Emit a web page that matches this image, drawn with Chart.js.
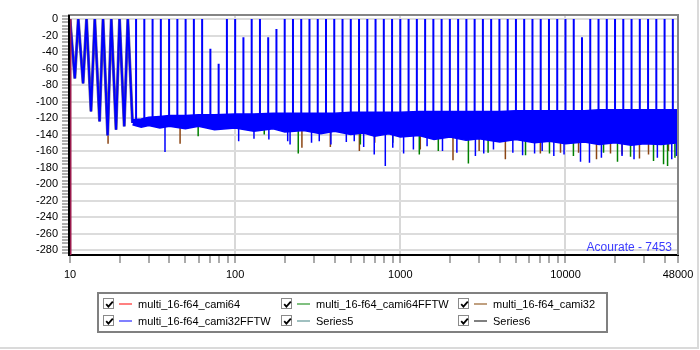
<!DOCTYPE html>
<html lang="en">
<head>
<meta charset="UTF-8">
<title>Acourate - 7453</title>
<style>
    html, body { margin: 0; padding: 0; background: #fff; }
    #wrap { position: relative; width: 700px; height: 350px; overflow: hidden; font-family: "Liberation Sans", Arial, sans-serif; }
    #frame { position: absolute; left: 0; top: 0; width: 697px; height: 347px; border-right: 2px solid #dadada; border-bottom: 2px solid #dadada; }
    #chartBox { position: absolute; left: 0; top: 0; width: 700px; height: 350px; }
    #brand { position: absolute; right: 28px; top: 240px; font-size: 12px; color: #3b3bff; }
    .legend { position: absolute; left: 97px; top: 292px; width: 507px; height: 37px; border: 2px solid #808080; font-size: 11px; }
    .item { position: absolute; height: 14px; line-height: 14px; white-space: nowrap; }
    .chk { position: absolute; left: 0; top: 1px; width: 11px; height: 11px; box-sizing: border-box; border: 1px solid #8a8a8a; background: #fff; }
    .chk svg { position: absolute; left: 1px; top: 1px; }
    .swatch { position: absolute; left: 16px; top: 6px; width: 13px; height: 2px; }
    .txt { position: absolute; left: 35px; top: 0; color: #000; }
</style>
</head>
<body>
<div id="wrap">
    <div id="frame"></div>
    <div id="chartBox"><canvas id="spectrumChart"></canvas></div>
    <div id="brand">Acourate - 7453</div>
    <div class="legend" id="legend"></div>
</div>

<script src="https://cdn.jsdelivr.net/npm/chart.js"></script>
<script>
// === DATA ===
// multitone frequencies, one spike per tone
const toneHz = [10, 11.22, 12.59, 14.13, 15.85, 17.78, 19.95, 22.39, 25.12, 28.18,
    31.62, 35.48, 39.81, 44.67, 50.12, 56.23, 63.10, 70.79, 79.43, 89.13,
    100, 112.2, 125.9, 141.3, 158.5, 177.8, 199.5, 223.9, 251.2, 281.8,
    316.2, 354.8, 398.1, 446.7, 501.2, 562.3, 631.0, 707.9, 794.3, 891.3,
    1000, 1122, 1259, 1413, 1585, 1778, 1995, 2239, 2512, 2818,
    3162, 3548, 3981, 4467, 5012, 5623, 6310, 7079, 7943, 8913,
    10000, 11220, 12589, 14125, 15849, 17783, 19953, 22387, 25119, 28184,
    31623, 35481, 39811, 44668];
const tonePeakDb = [0, 0, 0, 0, 0, 0, 0, 0, 0, 0,
    0, 0, 0, 0, 0, 0, 0, -36, -54, 0,
    0, -22, 0, 0, -22, -12, 0, 0, 0, 0,
    0, 0, 0, 0, 0, 0, 0, 0, 0, 0,
    0, 0, 0, 0, 0, 0, 0, 0, 0, 0,
    0, 0, 0, 0, 0, 0, 0, 0, 0, 0,
    0, 0, -22, 0, 0, 0, 0, 0, 0, 0,
    0, 0, 0, 0];

// low-frequency lobes: troughs between the first tones
const lobeTroughHz = [10.7, 12.0, 13.4, 15.1, 16.9, 19.0, 21.3, 23.9];
const lobeTroughDb = [-72, -78, -112, -124, -141, -134, -130, -126];

// noise floor band (upper and lower edge)
const bandHz = [23.9, 27, 30, 35, 40, 50, 60, 75, 100, 130, 170, 200, 260, 330, 400, 500, 600, 700, 850,
    1000, 1300, 1600, 2000, 2500, 3000, 4000, 5000, 6500, 8000, 10000, 13000, 16000, 20000, 25000, 30000, 38000, 48000];
const bandTopDb = [-122, -121, -119, -118, -117, -117, -116, -116, -115, -115, -114, -114, -114, -114, -114,
    -113, -113, -113, -113, -113, -112, -112, -112, -112, -112, -112, -111, -111, -111, -111, -111,
    -110, -110, -110, -110, -110, -110];
const bandBottomDb = [-128, -131, -129, -132, -130, -133, -130, -134, -132, -136, -133, -137, -135, -139, -136,
    -140, -138, -142, -139, -143, -141, -146, -143, -147, -145, -149, -146, -150, -148, -151, -149,
    -152, -150, -153, -151, -152, -150];

// dips below the noise floor [Hz, dB]
const blueDips = [[37.6, -161], [105, -148], [130, -145], [160, -146], [208, -148], [215, -152], [290, -150],
    [323, -148], [380, -152], [471, -149], [526, -148], [600, -155], [695, -164], [811, -178], [900, -156],
    [1047, -163], [1200, -158], [1452, -154], [1800, -160], [2200, -162], [2848, -166], [3200, -163],
    [3664, -158], [4800, -162], [5500, -165], [6500, -163], [7227, -160], [8500, -166], [9800, -164],
    [12330, -173], [13970, -174], [16500, -168], [22000, -166], [26000, -170], [36000, -168],
    [44000, -170], [47000, -166]];
const greenDips = [[59.7, -142], [150, -140], [241, -163], [573, -152], [900, -150], [1303, -164],
    [1698, -160], [2583, -175], [3400, -162], [5728, -165], [8000, -163], [11170, -166], [17000, -162],
    [20650, -173], [24770, -167], [34120, -172], [39240, -176], [41500, -178], [46000, -168]];
const brownDips = [[17.0, -151], [46.4, -151], [253.6, -156], [377, -155], [565, -160], [700, -150],
    [1321, -158], [2084, -171], [3000, -160], [4325, -170], [7046, -163], [9330, -162], [12000, -162],
    [15410, -170], [18730, -163], [22000, -164], [28050, -169], [31820, -164], [42000, -160]];

// axes
const xTickValues = [10, 20, 30, 40, 50, 60, 70, 80, 90,
    100, 200, 300, 400, 500, 600, 700, 800, 900,
    1000, 2000, 3000, 4000, 5000, 6000, 7000, 8000, 9000,
    10000, 20000, 30000, 40000, 48000];
const xTickLabels = [10, 100, 1000, 10000, 48000];
const xGridAt = [100, 1000, 10000];
const yTickLabels = [0, -20, -40, -60, -80, -100, -120, -140, -160, -180, -200, -220, -240, -260, -280];

const seriesNames = ['multi_16-f64_cami64', 'multi_16-f64_cami64FFTW', 'multi_16-f64_cami32',
    'multi_16-f64_cami32FFTW', 'Series5', 'Series6'];
const legendColors = ['#ff8080', '#80c080', '#c0a080', '#8080ff', '#a0c0c0', '#808080'];

// === LEGEND ===
const legend = document.getElementById('legend');
const colLeft = [4, 182, 359];
seriesNames.forEach((name, i) => {
    const row = i < 3 ? 0 : 1;
    const col = i % 3;
    const it = document.createElement('div');
    it.className = 'item';
    it.style.left = colLeft[col] + 'px';
    it.style.top = (row === 0 ? 3 : 20) + 'px';
    it.innerHTML = '<span class="chk"><svg width="9" height="9" viewBox="0 0 9 9">' +
        '<polyline points="1.2,4.2 3.4,6.6 7.8,1.6" fill="none" stroke="#000" stroke-width="1.8"/></svg></span>' +
        '<span class="swatch" style="background:' + legendColors[i] + '"></span>' +
        '<span class="txt">' + name + '</span>';
    legend.appendChild(it);
});

// === SERIES ===
function nearestTrough(hz) {
    let best = 0;
    lobeTroughHz.forEach((t, i) => { if (Math.abs(t - hz) < Math.abs(lobeTroughHz[best] - hz)) best = i; });
    return lobeTroughDb[best];
}
function dipTop(hz) { return hz < 24 ? nearestTrough(hz) : -125; }
function dipPoints(list) {
    const pts = [];
    list.forEach(([hz, db]) => {
        pts.push({ x: hz, y: dipTop(hz) }, { x: hz, y: db }, { x: hz, y: null });
    });
    return pts;
}

const lobePoints = [];
for (let k = 0; k < lobeTroughHz.length; k++) {
    lobePoints.push({ x: toneHz[k], y: tonePeakDb[k] });
    lobePoints.push({ x: lobeTroughHz[k], y: lobeTroughDb[k] });
}
const spikePoints = [];
for (let k = lobeTroughHz.length; k < toneHz.length; k++) {
    spikePoints.push({ x: toneHz[k], y: -125 }, { x: toneHz[k], y: tonePeakDb[k] }, { x: toneHz[k], y: null });
}
const bandTop = bandHz.map((hz, i) => ({ x: hz, y: bandTopDb[i] }));
const bandBottom = bandHz.map((hz, i) => ({ x: hz, y: bandBottomDb[i] }));

const blue = '#0000ff';
const datasets = [
    { data: [{ x: 10, y: -300 }, { x: 10, y: 0 }], borderColor: '#9b1c4e', borderWidth: 3, order: 0 },
    { data: spikePoints, borderColor: blue, borderWidth: 2, order: 1 },
    { data: lobePoints, borderColor: blue, borderWidth: 2, order: 2 },
    { data: bandTop, borderColor: blue, borderWidth: 1.5, backgroundColor: blue, fill: '+1', order: 3 },
    { data: bandBottom, borderColor: blue, borderWidth: 1.5, order: 4 },
    { data: dipPoints(blueDips), borderColor: blue, borderWidth: 1.5, order: 5 },
    { data: dipPoints(greenDips), borderColor: '#008000', borderWidth: 1.5, order: 6 },
    { data: dipPoints(brownDips), borderColor: '#8b4513', borderWidth: 1.5, order: 7 },
    { data: lobePoints, borderColor: '#6c6490', borderWidth: 3, order: 8 }
];

// top/right frame and black left axis
const framePlugin = {
    id: 'frame',
    afterDraw(chart) {
        const { ctx, chartArea: a } = chart;
        ctx.save();
        ctx.lineWidth = 2;
        ctx.strokeStyle = '#858585';
        ctx.beginPath();
        ctx.moveTo(a.left - 2, a.top);
        ctx.lineTo(a.right, a.top);
        ctx.lineTo(a.right, a.bottom);
        ctx.stroke();
        ctx.strokeStyle = '#000';
        ctx.beginPath();
        ctx.moveTo(a.left - 1, a.top);
        ctx.lineTo(a.left - 1, a.bottom + 1);
        ctx.stroke();
        ctx.restore();
    }
};

const tickFont = { family: '"Liberation Sans", Arial, sans-serif', size: 11 };
const ctx = document.getElementById('spectrumChart').getContext('2d');
new Chart(ctx, {
    type: 'line',
    data: { datasets: datasets },
    options: {
        responsive: true,
        maintainAspectRatio: false,
        animation: false,
        layout: { padding: { top: 15, right: 22, left: 0, bottom: 0 } },
        elements: { point: { radius: 0 }, line: { tension: 0 } },
        plugins: { legend: { display: false }, tooltip: { enabled: false } },
        scales: {
            x: {
                type: 'logarithmic',
                min: 10,
                max: 48000,
                afterBuildTicks: s => { s.ticks = xTickValues.map(v => ({ value: v })); },
                afterFit: s => { s.height = 95; },
                grid: {
                    color: c => (c.tick && xGridAt.includes(c.tick.value)) ? '#d8d8d8' : 'rgba(0,0,0,0)',
                    lineWidth: 2,
                    tickColor: '#ababab',
                    tickWidth: 2,
                    tickLength: 8
                },
                border: { color: '#000', width: 2 },
                ticks: {
                    autoSkip: false,
                    maxRotation: 0,
                    padding: 5,
                    color: '#000',
                    font: tickFont,
                    callback: v => xTickLabels.includes(v) ? String(v) : ''
                }
            },
            y: {
                min: -286,
                max: 5,
                // minor tick every 4 dB, label every 20 dB
                afterBuildTicks: s => {
                    const t = [];
                    yTickLabels.forEach(v => { for (let m = 0; m < 5; m++) t.push({ value: v + 4 - m * 4 }); });
                    s.ticks = t.filter(o => o.value <= 5 && o.value >= -286).sort((a, b) => a.value - b.value);
                },
                afterFit: s => { s.width = 70; },
                grid: {
                    color: c => (c.tick && c.tick.value % 20 === 0) ? '#dcdcdc' : 'rgba(0,0,0,0)',
                    lineWidth: 2,
                    tickColor: '#b0b0b0',
                    tickWidth: 2,
                    tickLength: 8
                },
                border: { display: false },
                ticks: {
                    autoSkip: false,
                    padding: 4,
                    color: '#000',
                    font: tickFont,
                    callback: v => v % 20 === 0 ? String(v) : ''
                }
            }
        }
    },
    plugins: [framePlugin]
});
</script>
</body>
</html>
